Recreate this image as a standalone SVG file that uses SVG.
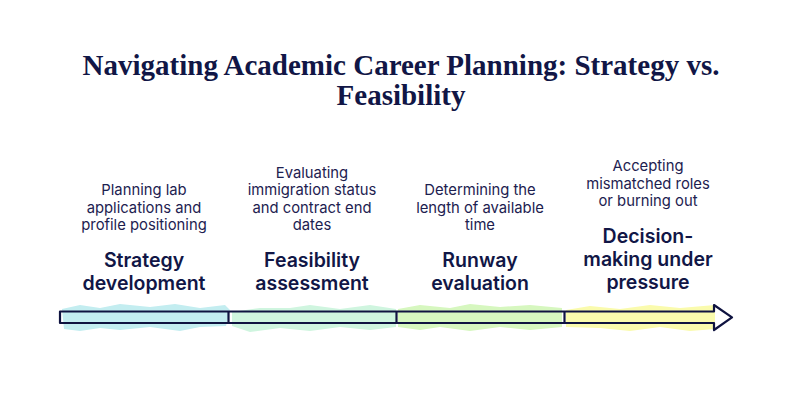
<svg xmlns="http://www.w3.org/2000/svg" width="792" height="402" viewBox="0 0 792 402">
<style>
.title{font-family:"Liberation Serif","DejaVu Serif",serif;font-weight:bold;font-size:29px;fill:#111646;text-anchor:middle}
.desc{font-family:Inter,"Liberation Sans",sans-serif;font-size:14.8px;fill:#1d2150;text-anchor:middle}
.head{font-family:Inter,"Liberation Sans",sans-serif;font-weight:600;font-size:19.5px;fill:#111646;text-anchor:middle}
.bar{fill:none;stroke:#0f1340;stroke-width:2.2;stroke-linejoin:round}
</style>
<rect width="792" height="402" fill="#ffffff"/>
<g id="title">
<text class="title" x="401" y="75">Navigating Academic Career Planning: Strategy vs.</text>
<text class="title" x="401" y="105">Feasibility</text>
</g>
<g id="brush">
<polygon fill="#c3edf0" points="62,309 80,305 100,308 120,304 150,307 175,304 200,308 225,305 230,310 226,326 200,327 180,331 150,327 120,330 100,328 80,331 64,329"/>
<polygon fill="#cff5df" points="232,312 260,308 290,308 310,305 340,309 370,305 396,309 396,327 370,330 340,327 310,331 280,328 250,332 232,326"/>
<polygon fill="#d6f7bf" points="398,309 420,305 450,308 470,304 500,307 530,305 562,308 562,327 530,330 500,327 470,331 440,327 420,330 398,327"/>
<polygon fill="#fafbad" points="566,310 590,306 620,309 650,305 680,308 715,305 715,329 690,331 660,327 630,331 600,328 566,327"/>
</g>
<g id="connectors">
<path class="bar" d="M60,311.5 H714 V305 L732,317.3 L714,330 V323 H60 Z"/>
<line class="bar" x1="228.5" y1="311.5" x2="228.5" y2="323"/>
<line class="bar" x1="396.5" y1="311.5" x2="396.5" y2="323"/>
<line class="bar" x1="564.5" y1="311.5" x2="564.5" y2="323"/>
</g>
<g id="node1">
<text class="desc" x="144" y="195">Planning lab</text>
<text class="desc" x="144" y="212.5">applications and</text>
<text class="desc" x="144" y="230">profile positioning</text>
<text class="head" x="144" y="267">Strategy</text>
<text class="head" x="144" y="290">development</text>
</g>
<g id="node2">
<text class="desc" x="312" y="177.5">Evaluating</text>
<text class="desc" x="312" y="195">immigration status</text>
<text class="desc" x="312" y="212.5">and contract end</text>
<text class="desc" x="312" y="230">dates</text>
<text class="head" x="312" y="267">Feasibility</text>
<text class="head" x="312" y="290">assessment</text>
</g>
<g id="node3">
<text class="desc" x="480" y="195">Determining the</text>
<text class="desc" x="480" y="212.5">length of available</text>
<text class="desc" x="480" y="230">time</text>
<text class="head" x="480" y="267">Runway</text>
<text class="head" x="480" y="290">evaluation</text>
</g>
<g id="node4">
<text class="desc" x="648" y="171">Accepting</text>
<text class="desc" x="648" y="188.5">mismatched roles</text>
<text class="desc" x="648" y="206">or burning out</text>
<text class="head" x="648" y="243">Decision-</text>
<text class="head" x="648" y="266">making under</text>
<text class="head" x="648" y="289">pressure</text>
</g>
</svg>
